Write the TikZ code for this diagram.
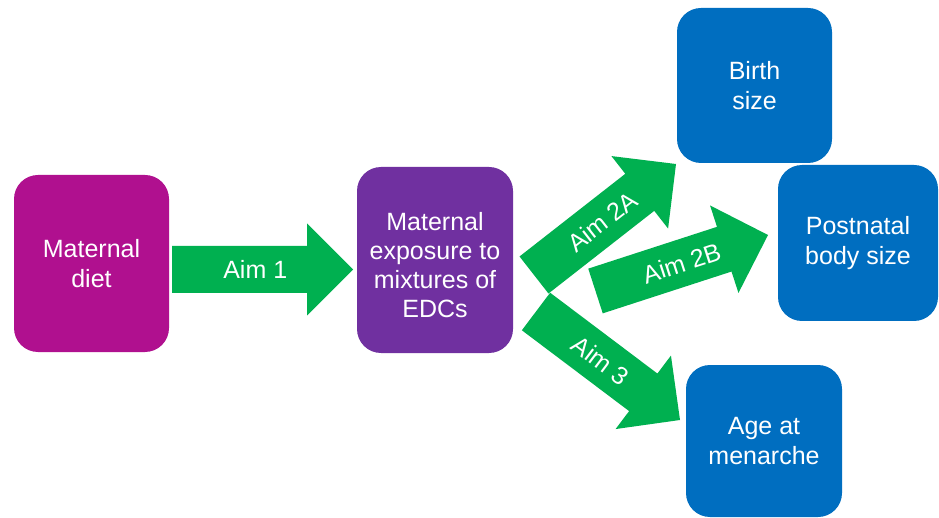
\documentclass[tikz,border=0pt]{standalone}
\usepackage{fontspec}
\setmainfont{Liberation Sans}
\usetikzlibrary{calc}
\definecolor{cMag}{RGB}{176,16,143}
\definecolor{cPur}{RGB}{112,48,160}
\definecolor{cBlue}{RGB}{0,110,192}
\definecolor{cGreen}{RGB}{0,176,80}
\tikzset{
  box/.style={rounded corners=24pt, inner sep=0pt, align=center, text=white,
    font=\fontsize{25}{30}\selectfont},
  arrowbody/.style={fill=cGreen},
  arrowlabel/.style={text=white, font=\fontsize{25}{30}\selectfont, inner sep=0pt}
}
\newcommand\blockarrow[4]{%
  \coordinate (hb#1) at ($(#2)!46pt!(#1)$);
  \fill[arrowbody] ($(#1)!23.5pt!90:(#2)$) -- ($(hb#1)!23.5pt!90:(#2)$) --
    ($(hb#1)!46pt!90:(#2)$) -- (#2) -- ($(hb#1)!46pt!-90:(#2)$) --
    ($(hb#1)!23.5pt!-90:(#2)$) -- ($(#1)!23.5pt!-90:(#2)$) -- cycle;
  \path (#1) -- node[arrowlabel, sloped, pos=#4] {#3} (#2);
}
\begin{document}
\begin{tikzpicture}[x=1pt,y=-1pt]
\fill[white] (0,0) rectangle (939,518);
\useasboundingbox (0,0) rectangle (939,518);

\node[box, fill=cMag, minimum width=155pt, minimum height=177pt] (diet) at (91.5,263.5) {Maternal\\diet};
\node[box, fill=cPur, minimum width=156pt, minimum height=186pt, font=\fontsize{25}{29}\selectfont] (expo) at (435,260) {\rule{0pt}{28pt}Maternal\\exposure to\\mixtures of\\EDCs};
\node[box, fill=cBlue, minimum width=155pt, minimum height=155pt] (birth) at (754.5,85.5) {Birth\\size};
\node[box, fill=cBlue, minimum width=160pt, minimum height=156pt] (post) at (858,243) {Postnatal\\body size};
\node[box, fill=cBlue, minimum width=156pt, minimum height=152pt] (men) at (764,441) {Age at\\menarche};

\coordinate (t1) at (172,269.5);  \coordinate (h1) at (353,269.5);
\coordinate (t2a) at (534,275);   \coordinate (h2a) at (676,164);
\coordinate (t2b) at (595.5,291); \coordinate (h2b) at (768,235);
\coordinate (t3) at (536,311.5);  \coordinate (h3) at (680,420);

\blockarrow{t1}{h1}{Aim 1}{0.46}
\blockarrow{t3}{h3}{Aim 3}{0.45}
\blockarrow{t2a}{h2a}{Aim 2A}{0.48}
\blockarrow{t2b}{h2b}{Aim 2B}{0.5}
\end{tikzpicture}
\end{document}
